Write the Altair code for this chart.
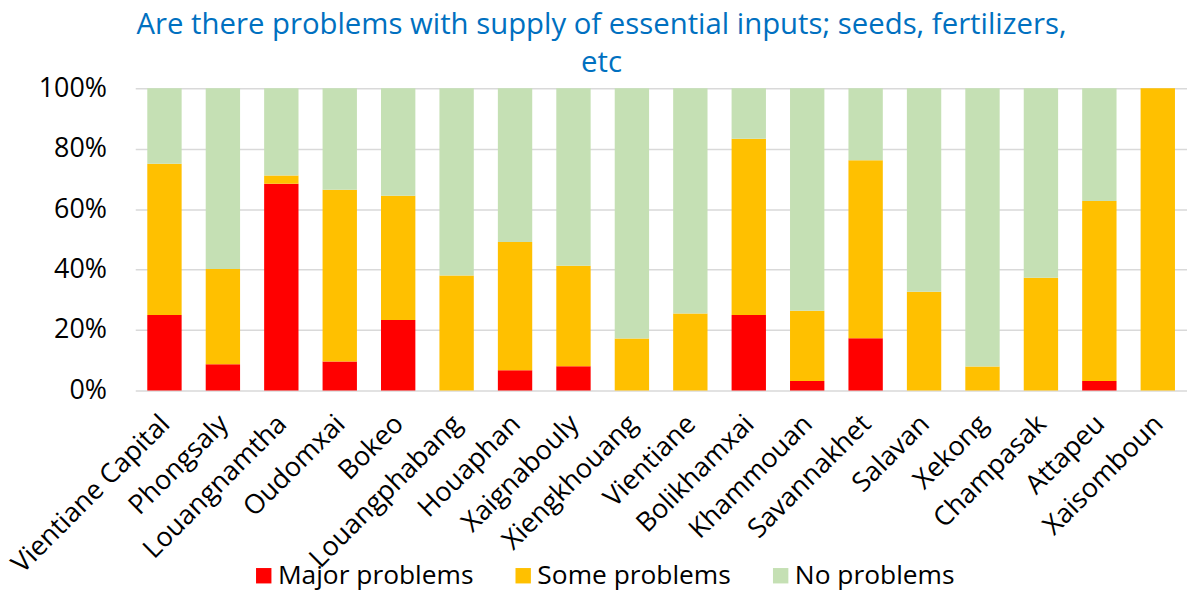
import altair as alt
import pandas as pd

provinces = ["Vientiane Capital", "Phongsaly", "Louangnamtha", "Oudomxai", "Bokeo",
             "Louangphabang", "Houaphan", "Xaignabouly", "Xiengkhouang", "Vientiane",
             "Bolikhamxai", "Khammouan", "Savannakhet", "Salavan", "Xekong",
             "Champasak", "Attapeu", "Xaisomboun"]
major = [25.0, 8.7, 68.4, 9.6, 23.3, 0.0, 6.7, 8.0, 0.0, 0.0,
         25.0, 3.1, 17.3, 0.0, 0.0, 0.0, 3.1, 0.0]
some = [50.0, 31.5, 2.7, 56.8, 41.1, 38.0, 42.4, 33.3, 17.2, 25.5,
        58.3, 23.3, 58.9, 32.7, 7.9, 37.3, 59.6, 100.0]
none_ = [25.0, 59.8, 28.9, 33.6, 35.6, 62.0, 50.9, 58.7, 82.8, 74.5,
         16.7, 73.6, 23.8, 67.3, 92.1, 62.7, 37.3, 0.0]

series = ["Major problems", "Some problems", "No problems"]
colors = ["#FF0000", "#FFC000", "#C5E0B4"]

rows = []
for i, p in enumerate(provinces):
    for k, (s, vals) in enumerate(zip(series, [major, some, none_])):
        rows.append({"province": p, "series": s, "value": vals[i] / 100.0, "order": k})
df = pd.DataFrame(rows)

FONT = "Open Sans"
FS = 27

chart = alt.Chart(df).mark_bar().encode(
    x=alt.X("province:N", sort=provinces, title=None,
            scale=alt.Scale(paddingInner=0.412, paddingOuter=0.206),
            axis=alt.Axis(labelAngle=-45, labelAlign="right", labelBaseline="top",
                          labelPadding=20, labelOffset=-8, ticks=False, domain=False,
                          labelFontSize=FS, labelFont=FONT, labelColor="#000000",
                          labelLimit=400, labelOverlap=False)),
    y=alt.Y("value:Q", stack="zero", title=None,
            scale=alt.Scale(domain=[0, 1]),
            axis=alt.Axis(format=".0%", values=[0, 0.2, 0.4, 0.6, 0.8, 1.0],
                          ticks=False, domain=False, labelPadding=29,
                          labelFontSize=FS, labelFont=FONT, labelColor="#000000",
                          gridColor="#D9D9D9", gridWidth=1.5)),
    color=alt.Color("series:N", sort=series,
                    scale=alt.Scale(domain=series, range=colors),
                    legend=alt.Legend(title=None, orient="none", direction="horizontal",
                                      legendX=116, legendY=477,
                                      symbolType="square", symbolSize=240,
                                      symbolStrokeWidth=0, labelFontSize=26.5,
                                      labelFont=FONT, labelColor="#000000",
                                      labelOffset=1, columnPadding=36, labelLimit=400)),
    order=alt.Order("order:Q", sort="ascending"),
).properties(
    width=1058,
    height=304,
    title=alt.TitleParams(
        text=["Are there problems with supply of essential inputs; seeds, fertilizers,", "etc"],
        fontSize=29.5, font=FONT, color="#0070C0", fontWeight="normal",
        lineHeight=38, anchor="middle", dx=-60, dy=16, offset=12,
    ),
    autosize=alt.AutoSizeParams(type="none"),
    padding={"left": 128, "top": 79, "right": 0, "bottom": 201},
).configure_view(stroke=None)

chart.save("out.html", embed_options={"renderer": "svg", "actions": False})
